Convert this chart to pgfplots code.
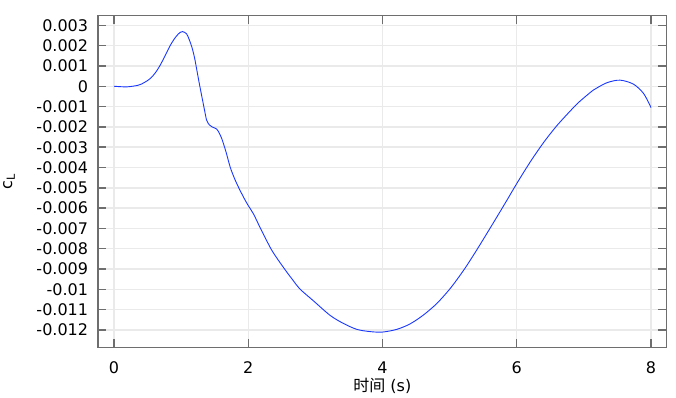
\documentclass[border=0pt]{standalone}
\usepackage{fontspec}
\setmainfont{DejaVu Sans}
\newfontfamily\cjk{Noto Sans CJK SC}
\usepackage{pgfplots}
\pgfplotsset{compat=1.18}
\definecolor{curve}{RGB}{25,55,255}
\definecolor{axgray}{RGB}{110,110,110}
\definecolor{gridgray}{RGB}{234,234,234}
\begin{document}
\begin{tikzpicture}
\path[use as bounding box] (-98pt,-49.7pt) rectangle (578pt,347.3pt);
\begin{axis}[
  at={(0pt,0pt)}, anchor=south west,
  width=568.7pt, height=331.6pt, scale only axis,
  xmin=-0.2385, xmax=8.234,
  ymin=-0.012851, ymax=0.003473,
  scaled y ticks=false, scaled x ticks=false,
  xtick={0,2,4,6,8}, xticklabels={0,2,4,6,8},
  ytick={-0.012,-0.011,-0.010,-0.009,-0.008,-0.007,-0.006,-0.005,-0.004,-0.003,-0.002,-0.001,0,0.001,0.002,0.003},
  yticklabels={-0.012,-0.011,-0.01,-0.009,-0.008,-0.007,-0.006,-0.005,-0.004,-0.003,-0.002,-0.001,0,0.001,0.002,0.003},
  grid=major,
  major grid style={color=gridgray, line width=1.4pt},
  axis line style={color=axgray, line width=1.5pt},
  tick style={color=axgray, line width=1.4pt},
  major tick length=8.5pt,
  tick align=inside,
  every tick label/.append style={font=\fontsize{16}{18}\selectfont},
  xticklabel style={yshift=-11.2pt},
  yticklabel style={xshift=-6.4pt},
  xlabel={{\cjk 时间} (s)},
  ylabel={c\textsubscript{L}},
  every axis x label/.style={at={(axis description cs:0.5,-0.1167)}, anchor=center, font=\fontsize{16}{18}\selectfont},
  every axis y label/.style={at={(axis description cs:-0.1565,0.5)}, anchor=center, rotate=90, font=\fontsize{16}{18}\selectfont},
]
\addplot[curve, line width=0.9pt, smooth, tension=0.5] coordinates {
(0,0) (0.19,-0.00003) (0.36,0.00005) (0.45,0.00018) (0.54,0.00038) (0.62,0.00068)
(0.69,0.00105) (0.76,0.00150) (0.83,0.00196) (0.90,0.00234) (0.96,0.00258)
(0.99,0.00266) (1.02,0.00269) (1.08,0.00259) (1.12,0.00230) (1.16,0.00193) (1.20,0.00140)
(1.23,0.00087) (1.27,0.00015) (1.31,-0.00053) (1.35,-0.00120) (1.38,-0.00167)
(1.42,-0.00190) (1.46,-0.00200) (1.53,-0.00211) (1.57,-0.00232) (1.61,-0.00262)
(1.67,-0.00325) (1.73,-0.00397) (1.79,-0.00450) (1.85,-0.00494) (1.92,-0.00540)
(1.99,-0.00582) (2.08,-0.00630) (2.18,-0.00698) (2.35,-0.00807) (2.52,-0.00890)
(2.65,-0.00948) (2.77,-0.00998) (2.97,-0.01056) (3.22,-0.01128) (3.42,-0.01168)
(3.62,-0.01197) (3.82,-0.01208) (4.00,-0.01210) (4.21,-0.01197) (4.41,-0.01170)
(4.61,-0.01126) (4.81,-0.01069) (5.01,-0.00995) (5.21,-0.00905) (5.40,-0.00808)
(5.65,-0.00673) (5.85,-0.00563) (6.00,-0.00479) (6.20,-0.00373) (6.40,-0.00277)
(6.60,-0.00193) (6.85,-0.00103) (6.94,-0.00074) (7.09,-0.00032) (7.14,-0.00019)
(7.34,0.00017) (7.54,0.00030) (7.74,0.00010) (7.89,-0.00036) (8.00,-0.00105)
};
\end{axis}
\end{tikzpicture}
\end{document}
